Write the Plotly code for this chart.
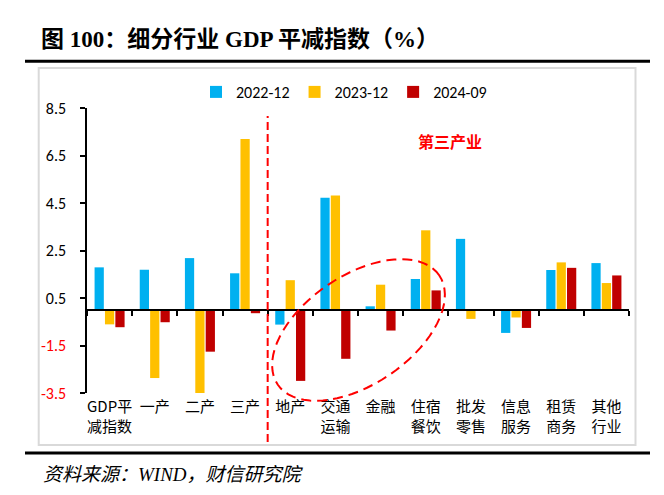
import math
import plotly.graph_objects as go

# ---------------- data ----------------
categories = ["GDP平<br>减指数", "一产", "二产", "三产", "地产", "交通<br>运输", "金融",
              "住宿<br>餐饮", "批发<br>零售", "信息<br>服务", "租赁<br>商务", "其他<br>行业"]
series_names = ["2022-12", "2023-12", "2024-09"]
values_2022_12 = [1.79, 1.69, 2.18, 1.54, -0.62, 4.72, 0.15, 1.30, 2.99, -0.97, 1.68, 1.97]
values_2023_12 = [-0.61, -2.87, -3.60, 7.20, 1.25, 4.82, 1.06, 3.35, -0.38, -0.32, 2.00, 1.13]
values_2024_09 = [-0.73, -0.52, -1.76, -0.14, -2.99, -2.06, -0.87, 0.82, None, -0.76, 1.77, 1.45]
y_tickvals = [-3.5, -1.5, 0.5, 2.5, 4.5, 6.5, 8.5]
y_ticktext = ["-3.5", "-1.5", "0.5", "2.5", "4.5", "6.5", "8.5"]
title_text = "图 100：细分行业 GDP 平减指数（%）"
source_text = "资料来源：WIND，财信研究院"
section_text = "第三产业"

colors = ["#00B0F0", "#FFC000", "#C00000"]

# ---------------- geometry (pixels) ----------------
W, H = 664, 495
ML, MR, MT, MB = 79, 43, 100, 110
PW, PH = W - ML - MR, H - MT - MB


def px(xp):
    return (xp - ML) / PW


def py(yp):
    return (H - MB - yp) / PH


LABEL_FONT = "Carlito, Liberation Sans, Noto Sans CJK SC, sans-serif"
CJK_FONT = "Microsoft YaHei, Noto Sans CJK SC, sans-serif"

fig = go.Figure()
for name, vals, col in zip(series_names, [values_2022_12, values_2023_12, values_2024_09], colors):
    fig.add_trace(go.Bar(x=categories, y=vals, name=name, marker=dict(color=col, line=dict(width=0))))

# invisible trace on overlay axis (for the zero line with boundary ticks)
fig.add_trace(go.Scatter(x=categories, y=[0] * len(categories), xaxis="x2", mode="markers",
                         marker=dict(opacity=0), showlegend=False, hoverinfo="skip"))

ymin, ymax = -3.5, 8.5
zero_pos = (0 - ymin) / (ymax - ymin)

tick_colored = [f"<span style='color:#FF0000'>{t}</span>" if v < 0 else t
                for v, t in zip(y_tickvals, y_ticktext)]

fig.update_layout(
    width=W, height=H,
    margin=dict(l=ML, r=MR, t=MT, b=MB),
    paper_bgcolor="white", plot_bgcolor="white",
    barmode="group", bargap=0.31, bargroupgap=0.11,
    font=dict(family=LABEL_FONT, size=16, color="black"),
    showlegend=True,
    legend=dict(orientation="h", x=px(336), xanchor="center", y=py(84), yanchor="middle",
                font=dict(family=LABEL_FONT, size=16, color="black"),
                bgcolor="rgba(0,0,0,0)", itemclick=False, tracegroupgap=0),
    xaxis=dict(type="category", categoryarray=categories, range=[-0.5, len(categories) - 0.5],
               showline=False, showgrid=False, zeroline=False, ticks="",
               tickfont=dict(family=CJK_FONT, size=15, color="black"),
               ticklabelstandoff=3),
    xaxis2=dict(type="category", categoryarray=categories, range=[-0.5, len(categories) - 0.5],
                overlaying="x", anchor="free", position=zero_pos, side="bottom",
                showline=True, linecolor="black", linewidth=1.5,
                ticks="outside", tickson="boundaries", ticklen=5, tickwidth=1.5, tickcolor="black",
                showticklabels=False, showgrid=False, zeroline=False),
    yaxis=dict(range=[ymin, ymax], tickvals=y_tickvals, ticktext=tick_colored,
               showline=True, linecolor="black", linewidth=1.5,
               ticks="outside", ticklen=5, tickwidth=1.5, tickcolor="black",
               showgrid=False, zeroline=False, ticklabelstandoff=11,
               tickfont=dict(family=LABEL_FONT, size=16, color="black")),
)

shapes = []
# light grey frame
shapes.append(dict(type="rect", xref="paper", yref="paper", x0=px(30.7), x1=px(627.5),
                   y0=py(437), y1=py(60), line=dict(color="#D9D9D9", width=2), layer="below"))
# thick black rules
shapes.append(dict(type="line", xref="paper", yref="paper", x0=px(17), x1=px(642),
                   y0=py(53.3), y1=py(53.3), line=dict(color="black", width=3)))
shapes.append(dict(type="line", xref="paper", yref="paper", x0=px(17), x1=px(642),
                   y0=py(445), y1=py(445), line=dict(color="black", width=3)))
# red dashed separator between 三产 and 地产
shapes.append(dict(type="line", xref="x", yref="paper", x0=3.5, x1=3.5,
                   y0=py(434), y1=py(108), line=dict(color="#FF0000", width=2, dash="8px,4px")))
# dashed ellipse
cx, cy, a, b, th = 350.5, 322.0, 97.5, 54.5, math.radians(34)
pts = []
for k in range(73):
    t = 2 * math.pi * k / 72
    xx = cx + a * math.cos(t) * math.cos(th) - b * math.sin(t) * math.sin(th)
    yy = cy - (a * math.cos(t) * math.sin(th) + b * math.sin(t) * math.cos(th))
    pts.append((px(xx), py(yy)))
path = "M " + " L ".join(f"{x:.5f},{y:.5f}" for x, y in pts) + " Z"
shapes.append(dict(type="path", xref="paper", yref="paper", path=path,
                   line=dict(color="#FF0000", width=2, dash="10px,6px")))
fig.update_layout(shapes=shapes)

annotations = [
    dict(text=f"<b>{title_text}</b>", xref="paper", yref="paper", x=px(31), y=py(32),
         xanchor="left", yanchor="middle", showarrow=False,
         font=dict(family="Liberation Serif, Noto Sans CJK SC, serif", size=23, color="black")),
    dict(text=f"<i>{source_text}</i>", xref="paper", yref="paper", x=px(33), y=py(466),
         xanchor="left", yanchor="middle", showarrow=False,
         font=dict(family="Liberation Serif, Noto Sans CJK SC, serif", size=19, color="black")),
    dict(text=f"<b>{section_text}</b>", xref="paper", yref="paper", x=px(442), y=py(133),
         xanchor="center", yanchor="middle", showarrow=False,
         font=dict(family=CJK_FONT, size=16, color="#FF0000")),
]
fig.update_layout(annotations=annotations)

fig.write_html("out.html")
